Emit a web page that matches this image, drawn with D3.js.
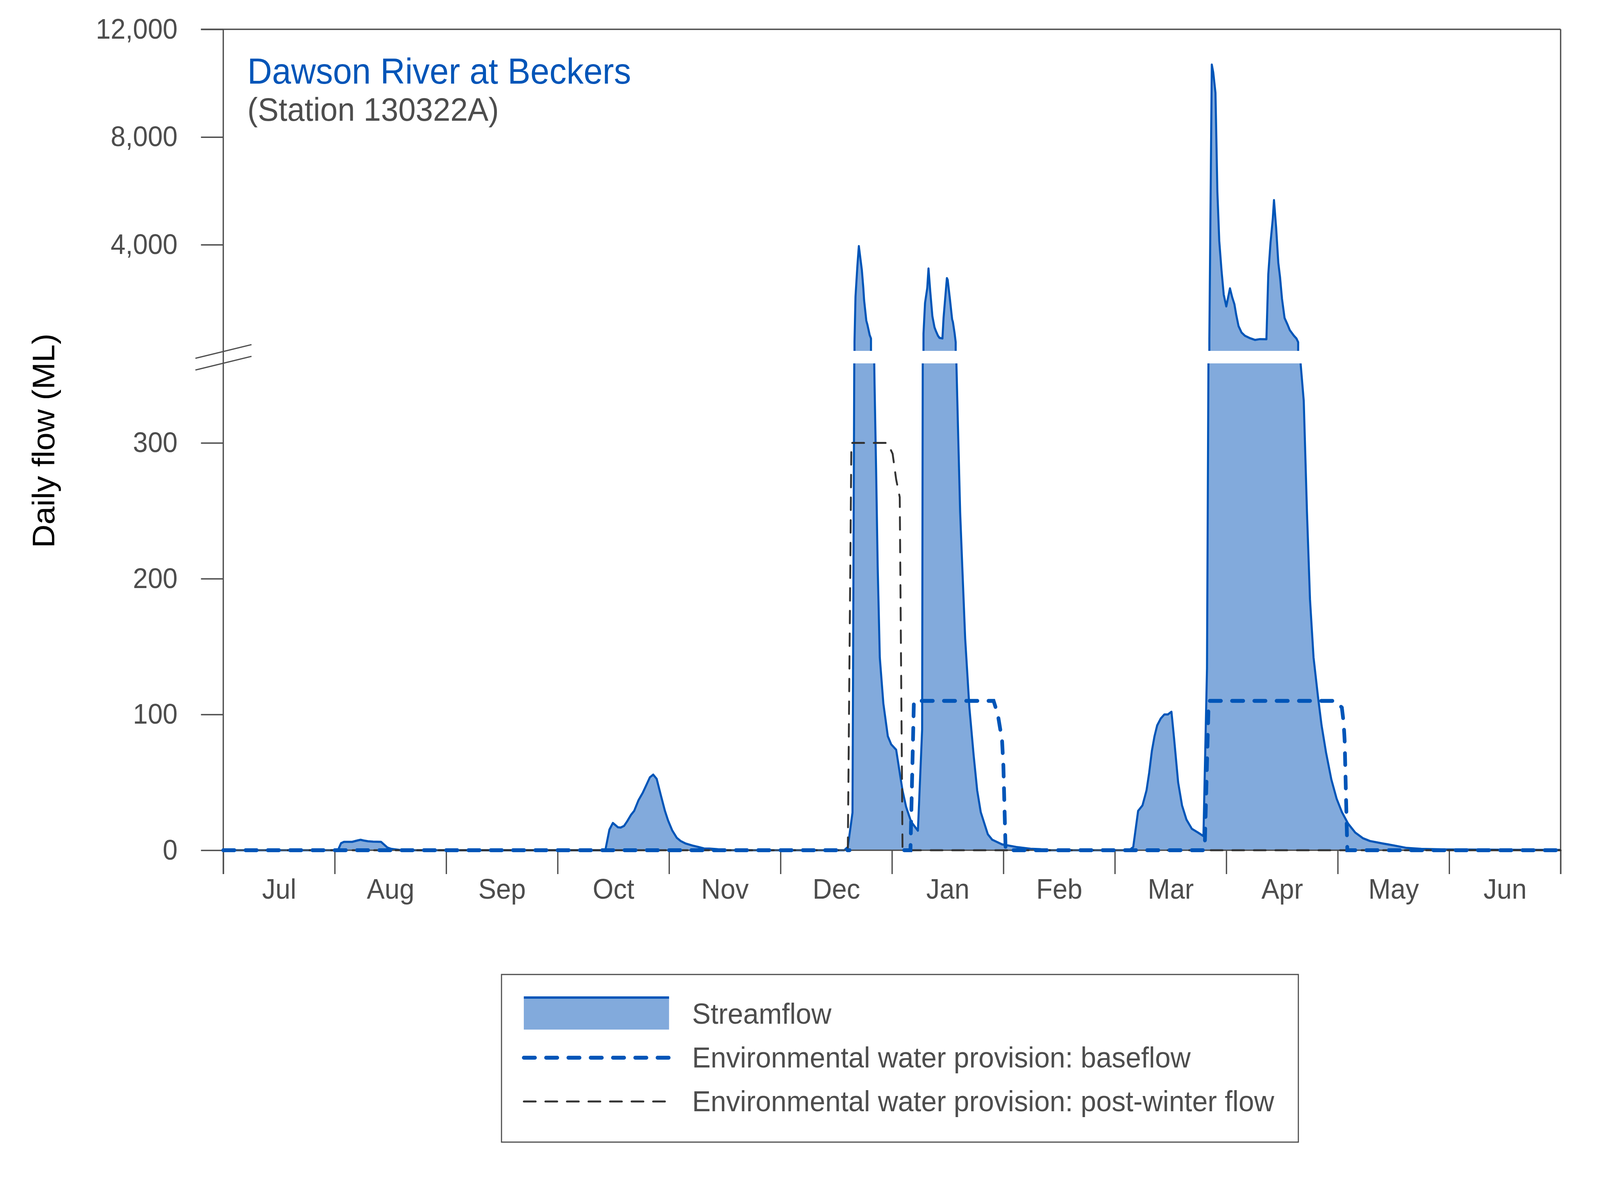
<!DOCTYPE html>
<html lang="en">
<head>
<meta charset="utf-8">
<title>Dawson River at Beckers</title>
<script src="https://d3js.org/d3.v7.min.js"></script>
<style>
    html, body { margin: 0; padding: 0; background: #fff; overflow: hidden; }
    svg { display: block; width: 100vw; height: 100vh; }
    text { font-family: "Liberation Sans", Arial, sans-serif; }
</style>
</head>
<body>
<div id="chart"></div>
<script>
// months since 1 July, flow in ML/day
const months = ["Jul", "Aug", "Sep", "Oct", "Nov", "Dec", "Jan", "Feb", "Mar", "Apr", "May", "Jun"];

const flowMonth = [
    0, 1.029, 1.057, 1.083, 1.157, 1.204, 1.232, 1.258, 1.298, 1.344, 1.415, 1.473, 1.508, 1.555, 1.6,
    3.42, 3.430, 3.465, 3.496, 3.542, 3.566, 3.596, 3.624, 3.659, 3.687, 3.725, 3.765, 3.795, 3.828, 3.858,
    3.889, 3.928, 3.963, 3.991, 4.029, 4.069, 4.104, 4.150, 4.209, 4.267, 4.314, 4.361, 4.431, 4.5,
    5.572, 5.604, 5.646, 5.664, 5.673, 5.690, 5.703, 5.730, 5.743, 5.750, 5.770, 5.780, 5.800, 5.812,
    5.844, 5.859, 5.872, 5.891, 5.923, 5.963, 5.993, 6.038, 6.070, 6.095, 6.127, 6.172, 6.233, 6.271,
    6.283, 6.297, 6.317, 6.328, 6.343, 6.363, 6.382, 6.397, 6.413, 6.427, 6.453, 6.463, 6.493, 6.500,
    6.520, 6.540, 6.547, 6.562, 6.572, 6.593, 6.612, 6.631, 6.657, 6.695, 6.733, 6.765, 6.797, 6.860,
    6.899, 6.988, 7.116, 7.244, 7.33, 7.4,
    8.13, 8.165, 8.209, 8.248, 8.284, 8.308, 8.332, 8.356, 8.380, 8.412, 8.444, 8.476, 8.508, 8.532,
    8.568, 8.603, 8.643, 8.691, 8.747, 8.795, 8.827, 8.848, 8.870, 8.883, 8.903, 8.920, 8.937, 8.957,
    8.977, 9.000, 9.033, 9.053, 9.073, 9.090, 9.110, 9.137, 9.167, 9.207, 9.257, 9.302, 9.360, 9.377,
    9.397, 9.417, 9.428, 9.447, 9.467, 9.482, 9.500, 9.523, 9.550, 9.570, 9.607, 9.630, 9.645, 9.695,
    9.724, 9.751, 9.783, 9.823, 9.855, 9.895, 9.943, 9.990, 10.038, 10.093, 10.157, 10.225, 10.289,
    10.409, 10.506, 10.619, 10.75, 10.97, 11.6, 12
];
const flowML = [
    0, 0, 5.2, 6.2, 6.2, 7.2, 7.7, 7.2, 6.6, 6.3, 6.2, 2.0, 1.0, 0.5, 0,
    0, 0.8, 15.2, 20.1, 16.9, 16.7, 17.9, 21.3, 26.1, 29, 36.7, 42.5, 47.8, 53.7, 55.7,
    52.6, 40, 29, 22, 14.5, 9.2, 6.8, 4.9, 3.5, 2.3, 1.3, 1.2, 0.8, 0,
    0, 2.4, 27.7, 400, 2076, 3220, 3950, 3060, 2400, 1950, 1180, 1030, 650, 520,
    343, 275, 209, 142, 108, 84, 78, 74, 57, 44, 32, 21, 14.4, 89,
    700, 1840, 2400, 3120, 2300, 1340, 930, 770, 620, 540, 520, 1280, 2760, 2700,
    1990, 1230, 1130, 720, 380, 310, 249, 209, 156, 105, 70, 44, 28, 11.8,
    7.8, 4.3, 2.4, 1.1, 0.8, 0,
    0, 2.4, 29, 33, 44, 57, 73, 84, 92, 97, 100, 100, 102, 82,
    50, 33, 22.5, 15.8, 13, 10.4, 134, 500, 10690, 10400, 9640, 5970, 4140, 3060,
    2150, 1710, 2380, 2050, 1790, 1380, 980, 740, 620, 540, 465, 495, 490, 2910,
    4080, 4950, 5660, 4650, 3320, 2810, 1990, 1280, 1030, 830, 620, 515, 380, 331,
    249, 185, 142, 113, 92, 72, 52, 38, 28, 19.6, 13, 8.9, 6.8,
    4.9, 3.5, 1.7, 1.0, 0.6, 0.3, 0.2
];

// environmental water provision: baseflow (null = not shown)
const baseMonth = [0, 5.62, 5.63, 6.11, 6.166, 6.197, 6.912, 6.950, 6.988, 7.000, 7.020, 8.806, 8.842, 9.982, 10.037, 10.053, 10.062, 10.086, 12];
const baseML    = [0, 0, null, 0, 0, 110, 110, 100, 81, 62, 0, 0, 110, 110, 105, 94, 81, 0, 0];

// environmental water provision: post-winter flow
const winterMonth = [0, 5.604, 5.636, 5.960, 6.006, 6.038, 6.070, 6.095, 12];
const winterML    = [0, 0, 300, 300, 292, 273, 260, 0, 0];

const lowerTicks = [0, 100, 200, 300];
const upperTicks = [4000, 8000, 12000];
const lowerMax = 360;
const upperMax = 12000;

const W = 4307, H = 3043;
const left = 601, right = 4201, zeroY = 2176;
const upTop = 75, upBottom = 898, lowTop = 930;
const blue = "#0055b8", fillBlue = "#82aadc", grey = "#4d4d4d";

const svg = d3.select("#chart").append("svg")
    .attr("viewBox", [0, 0, W, H])
    .attr("preserveAspectRatio", "none");

const x = d3.scaleLinear().domain([0, 12]).range([left, right]);
const yLow = d3.scaleLinear().domain([0, lowerMax]).range([zeroY, 925]);
const yUp = d3.scaleLinear().domain([0, upperMax]).range([902, upTop]);

const flow = flowMonth.map((m, i) => ({m: m, v: flowML[i]}));
const base = baseMonth.map((m, i) => ({m: m, v: baseML[i]}));
const winter = winterMonth.map((m, i) => ({m: m, v: winterML[i]}));

const defs = svg.append("defs");
defs.append("clipPath").attr("id", "clipLow")
    .append("rect").attr("x", 0).attr("y", lowTop).attr("width", W).attr("height", H - lowTop);
defs.append("clipPath").attr("id", "clipUp")
    .append("rect").attr("x", 0).attr("y", 0).attr("width", W).attr("height", upBottom);

// lower panel streamflow
const lowArea = d3.area().x(d => x(d.m)).y0(yLow(0)).y1(d => yLow(d.v));
const lowLine = d3.line().x(d => x(d.m)).y(d => yLow(d.v));
const gLow = svg.append("g").attr("clip-path", "url(#clipLow)");
gLow.append("path").datum(flow).attr("d", lowArea).attr("fill", fillBlue);
gLow.append("path").datum(flow).attr("d", lowLine)
    .attr("fill", "none").attr("stroke", blue).attr("stroke-width", 5.5).attr("stroke-linejoin", "round");

// upper panel streamflow, only the part above the lower panel's range
const upArea = d3.area().defined(d => d.v > lowerMax)
    .x(d => x(d.m)).y0(yUp(0)).y1(d => yUp(d.v));
svg.append("g").attr("clip-path", "url(#clipUp)")
    .append("path").datum(flow).attr("d", upArea)
    .attr("fill", fillBlue).attr("stroke", blue).attr("stroke-width", 5.5).attr("stroke-linejoin", "round");

// axes
const axisStyle = g => {
    g.select(".domain").remove();
    g.selectAll(".tick line").attr("stroke", grey).attr("stroke-width", 3.5);
    g.selectAll(".tick text").attr("fill", grey).attr("font-size", 72)
        .attr("font-family", "'Liberation Sans', Arial, sans-serif");
};

svg.append("g").attr("transform", `translate(${left},0)`)
    .call(d3.axisLeft(yLow).tickValues(lowerTicks).tickSize(60).tickPadding(63))
    .call(axisStyle);
svg.append("g").attr("transform", `translate(${left},0)`)
    .call(d3.axisLeft(yUp).tickValues(upperTicks).tickSize(60).tickPadding(63).tickFormat(d3.format(",")))
    .call(axisStyle);

svg.append("g").attr("transform", `translate(0,${zeroY})`)
    .call(d3.axisBottom(x).tickValues(d3.range(0, 13)).tickSize(61).tickFormat(""))
    .call(axisStyle);
svg.append("g").attr("transform", `translate(0,${zeroY})`)
    .call(d3.axisBottom(x).tickValues(d3.range(0.5, 12)).tickSize(0).tickPadding(73).tickFormat((d, i) => months[i]))
    .call(axisStyle);

// frame lines
const frame = svg.append("g").attr("stroke", grey).attr("stroke-width", 3.5).attr("fill", "none");
frame.append("line").attr("x1", left).attr("x2", left).attr("y1", upTop).attr("y2", zeroY + 61);
frame.append("line").attr("x1", left - 60).attr("x2", right).attr("y1", upTop).attr("y2", upTop);
frame.append("line").attr("x1", right).attr("x2", right).attr("y1", upTop).attr("y2", zeroY + 61);
frame.append("line").attr("x1", left).attr("x2", right).attr("y1", zeroY).attr("y2", zeroY);

// axis break marks
const mid = (upBottom + lowTop) / 2;
[-15, 15].forEach(off => {
    frame.append("line").attr("stroke-width", 3)
        .attr("x1", left - 75).attr("y1", mid + off + 18)
        .attr("x2", left + 76).attr("y2", mid + off - 17);
});

// environmental water lines
const envLine = d3.line().defined(d => d.v != null).x(d => x(d.m)).y(d => yLow(d.v));
svg.append("path").datum(winter).attr("d", envLine)
    .attr("fill", "none").attr("stroke", "#333").attr("stroke-width", 5)
    .attr("stroke-dasharray", "32 26").attr("stroke-linecap", "round");
svg.append("path").datum(base).attr("d", envLine)
    .attr("fill", "none").attr("stroke", blue).attr("stroke-width", 10)
    .attr("stroke-dasharray", "30 30").attr("stroke-linecap", "round");

// title
svg.append("text").attr("x", 666).attr("y", 214)
    .attr("font-size", 92).attr("fill", blue).text("Dawson River at Beckers");
svg.append("text").attr("x", 666).attr("y", 309)
    .attr("font-size", 84).attr("fill", grey).text("(Station 130322A)");

// y label
svg.append("text")
    .attr("transform", "translate(146,1128) rotate(-90)")
    .attr("text-anchor", "middle").attr("font-size", 83).attr("fill", "#000")
    .text("Daily flow (ML)");

// legend
const lg = svg.append("g");
lg.append("rect").attr("x", 1350).attr("y", 2494).attr("width", 2145).attr("height", 429)
    .attr("fill", "none").attr("stroke", grey).attr("stroke-width", 3);
lg.append("rect").attr("x", 1410).attr("y", 2553).attr("width", 391).attr("height", 82).attr("fill", fillBlue);
lg.append("line").attr("x1", 1410).attr("x2", 1801).attr("y1", 2553).attr("y2", 2553)
    .attr("stroke", blue).attr("stroke-width", 6);
lg.append("line").attr("x1", 1410).attr("x2", 1801).attr("y1", 2707).attr("y2", 2707)
    .attr("stroke", blue).attr("stroke-width", 10).attr("stroke-dasharray", "30 30").attr("stroke-linecap", "round");
lg.append("line").attr("x1", 1410).attr("x2", 1801).attr("y1", 2819).attr("y2", 2819)
    .attr("stroke", "#333").attr("stroke-width", 5).attr("stroke-dasharray", "32 26").attr("stroke-linecap", "round");
const legendText = ["Streamflow", "Environmental water provision: baseflow", "Environmental water provision: post-winter flow"];
lg.selectAll("text.item").data(legendText).enter().append("text")
    .attr("class", "item")
    .attr("x", 1863).attr("y", (d, i) => 2620 + i * 112)
    .attr("font-size", 75).attr("fill", grey).text(d => d);
</script>
</body>
</html>
